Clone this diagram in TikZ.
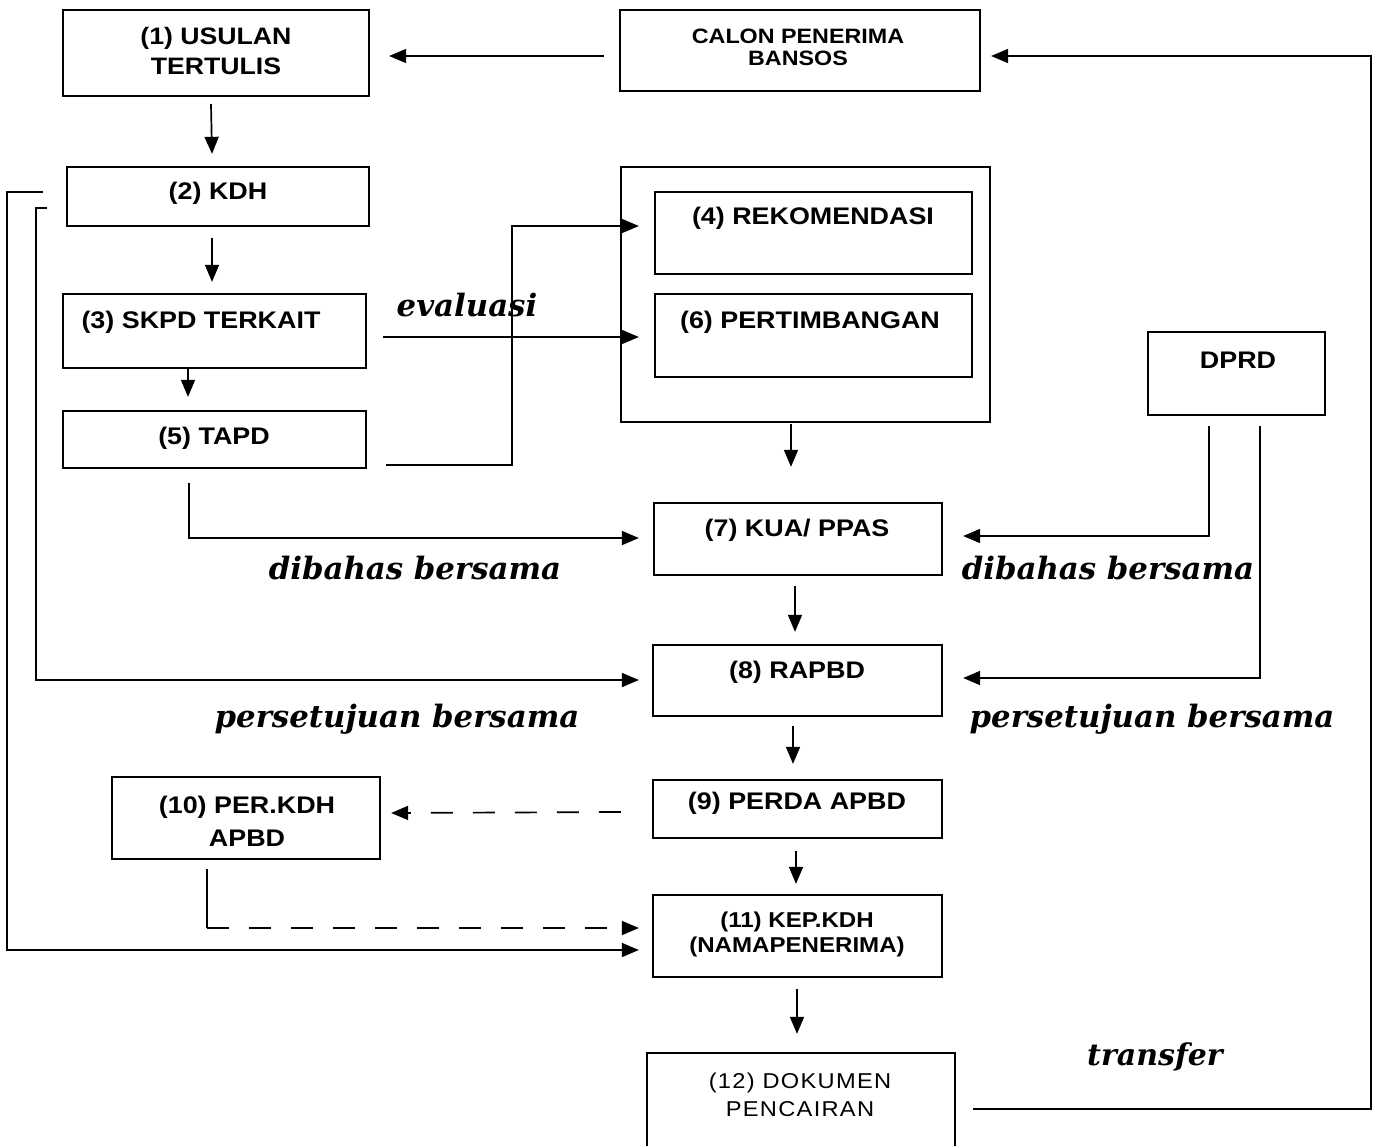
\documentclass[tikz,border=0pt]{standalone}
\usepackage{fontspec}
\setmainfont{Liberation Sans}
\newfontfamily\bxf[FakeStretch=1.12]{Liberation Sans}
\newfontfamily\lbf{DejaVu Serif}
\newfontfamily\docf[FakeStretch=1.1,LetterSpace=6]{Liberation Sans}
\usetikzlibrary{arrows.meta,calc}
\begin{document}
\begin{tikzpicture}[x=0.5pt,y=-0.5pt,
 box/.style={draw,line width=1.15pt,inner sep=0pt},
 sz/.style 2 args={minimum width=#1*0.5pt,minimum height=#2*0.5pt},
 bt/.style={font=\bxf\bfseries\fontsize{12}{15}\selectfont,align=center,inner sep=0pt},
 lab/.style={font=\lbf\bfseries\itshape\fontsize{15.4}{17}\selectfont,inner sep=0pt},
 con/.style={line width=0.85pt},
 arr/.style={con,-{Triangle[length=8.5pt,width=7pt]}},
 dsh/.style={dash pattern=on 11pt off 10pt}]
\useasboundingbox (0,0) rectangle (1378,1146);
% boxes
\node[box,sz={306}{86}] (b1) at (216,53) {};
\node[box,sz={360}{81}] (calon) at (800,50.5) {};
\node[box,sz={302}{59}] (b2) at (218,196.5) {};
\node[box,sz={303}{74}] (b3) at (214.5,331) {};
\node[box,sz={303}{57}] (b5) at (214.5,439.5) {};
\node[box,sz={369}{255}] (grp) at (805.5,294.5) {};
\node[box,sz={317}{82}] (b4) at (813.5,233) {};
\node[box,sz={317}{83}] (b6) at (813.5,335.5) {};
\node[box,sz={177}{83}] (dprd) at (1236.5,373.5) {};
\node[box,sz={288}{72}] (b7) at (798,539) {};
\node[box,sz={289}{71}] (b8) at (797.5,680.5) {};
\node[box,sz={289}{58}] (b9) at (797.5,809) {};
\node[box,sz={268}{82}] (b10) at (246,818) {};
\node[box,sz={289}{82}] (b11) at (797.5,936) {};
\node[box,sz={308}{110}] (b12) at (801,1108) {};
% texts
\node[bt,font=\bxf\bfseries\fontsize{11.9}{15}\selectfont] (t1) at (216,51) {(1) USULAN\\TERTULIS};
\node[bt,font=\bxf\bfseries\fontsize{10.4}{11}\selectfont] (tc) at (798,47.5) {CALON PENERIMA\\BANSOS};
\node[bt] (t2) at (218,193) {(2) KDH};
\node[bt] (t3) at (201,322) {(3) SKPD TERKAIT};
\node[bt] (t5) at (214,438) {(5) TAPD};
\node[bt] (t4) at (813,218) {(4) REKOMENDASI};
\node[bt] (t6) at (810,322) {(6) PERTIMBANGAN};
\node[bt] (td) at (1238,360) {DPRD};
\node[bt] (t7) at (797,530) {(7) KUA/ PPAS};
\node[bt] (t8) at (797,672) {(8) RAPBD};
\node[bt] (t9) at (797,803) {(9) PERDA APBD};
\node[bt,font=\bxf\bfseries\fontsize{12}{16.5}\selectfont] (t10) at (247,821) {(10) PER.KDH\\APBD};
\node[bt,font=\bxf\bfseries\fontsize{10.75}{12.5}\selectfont] (t11) at (797,934) {(11) KEP.KDH\\(NAMAPENERIMA)};
\node[bt,font=\docf\fontsize{10.75}{14}\selectfont] (t12) at (800,1095) {(12) DOKUMEN\\PENCAIRAN};
% labels
\node[lab] (le) at (467,305) {evaluasi};
\node[lab] (ld1) at (415,568) {dibahas bersama};
\node[lab] (ld2) at (1108,568) {dibahas bersama};
\node[lab] (lp1) at (397,719) {persetujuan bersama};
\node[lab] (lp2) at (1152,719) {persetujuan bersama};
\node[lab,font=\lbf\bfseries\itshape\fontsize{15}{17}\selectfont] (lt) at (1155,1057) {transfer};
% junction coordinates
\coordinate (j1) at (512,226);
\coordinate (j3) at (207,928);
\coordinate (j4) at (1371,1109);
% connectors
\draw[arr] ([shift={(-15,5.5)}]calon.west) -- ([shift={(19,3)}]b1.east);
\draw[arr] ([shift={(-5,7)}]b1.south) -- ([shift={(-6,-12)}]b2.north);
\draw[arr] ([shift={(-6,11)}]b2.south) -- ([shift={(-2.5,-11)}]b3.north);
\draw[arr] ([shift={(-26.5,0)}]b3.south) -- ([shift={(-26.5,-13)}]b5.north);
\draw[arr] ([shift={(19,25.5)}]b5.east) -| (j1) -- ([shift={(-15,-7)}]b4.west);
\draw[arr] ([shift={(16,6)}]b3.east) -- ([shift={(-15,1.5)}]b6.west);
\draw[arr] ([shift={(-14.5,1)}]grp.south) -- ([shift={(-7,-35)}]b7.north);
\draw[arr] ([shift={(-25.5,14)}]b5.south) |- ([shift={(-14,-1)}]b7.west);
\draw[arr] ([shift={(-27.5,10)}]dprd.south) |- ([shift={(20,-3)}]b7.east);
\draw[arr] ([shift={(23.5,10)}]dprd.south) |- ([shift={(20,-2.5)}]b8.east);
\draw[arr] ([shift={(-3,10)}]b7.south) -- ([shift={(-2.5,-12)}]b8.north);
\draw[arr] ([shift={(-19,11.5)}]b2.west) -- ++(-11,0) |- ([shift={(-13,-0.5)}]b8.west);
\draw[arr] ([shift={(-23,-4.5)}]b2.west) -- ++(-36,0) |- ([shift={(-13,14)}]b11.west);
\draw[arr] ([shift={(-4.5,9)}]b8.south) -- ([shift={(-4.5,-15)}]b9.north);
\draw[arr,dsh] ([shift={(-31,3)}]b9.west) -- ([shift={(10,-5)}]b10.east);
\draw[arr] ([shift={(-1.5,12)}]b9.south) -- ([shift={(-1.5,-10)}]b11.north);
\draw[con] ([shift={(-39,9)}]b10.south) -- (j3);
\draw[arr,dsh] (j3) -- ([shift={(-13,-8)}]b11.west);
\draw[arr] ([shift={(-0.5,11)}]b11.south) -- ([shift={(-4,-18)}]b12.north);
\draw[arr] ([shift={(17,1)}]b12.east) -- (j4) |- ([shift={(10,5.5)}]calon.east);
\end{tikzpicture}
\end{document}
